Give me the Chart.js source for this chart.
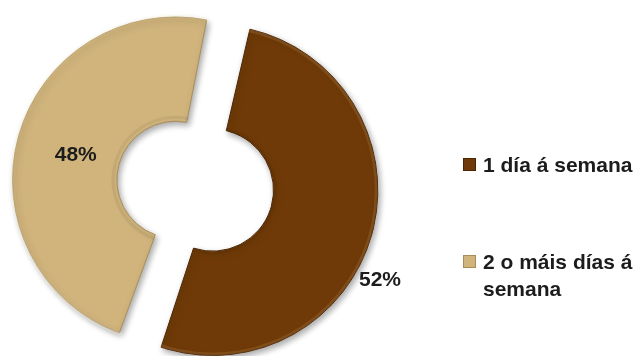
<!DOCTYPE html>
<html>
<head>
<meta charset="utf-8">
<script src="https://cdn.jsdelivr.net/npm/chart.js@4/dist/chart.umd.min.js"></script>
<style>
  html, body { margin: 0; padding: 0; background: #ffffff; }
  #wrap { position: relative; width: 640px; height: 356px; overflow: hidden; }
  #legend { position: absolute; left: 0; top: 0; width: 640px; height: 356px; pointer-events: none;
            font-family: 'Liberation Sans', Arial, sans-serif; font-weight: bold; font-size: 21px; color: #1c1c1c; }
  .item { position: absolute; left: 463px; }
  .box { position: absolute; left: 0; width: 13px; height: 13px; box-sizing: border-box; border: 1px solid; }
  .txt { position: absolute; left: 20px; line-height: 27px; white-space: nowrap; }
</style>
</head>
<body>
<div id="wrap">
  <canvas id="c"></canvas>
  <div id="legend"></div>
</div>
<script>
// ---- data ----
const categories = ['1 día á semana', '2 o máis días á semana'];
const legendLines = [['1 día á semana'], ['2 o máis días á', 'semana']];
const values = [52, 48];
const valueLabels = ['52%', '48%'];

// ---- styles ----
const colors = ['#6f3a07', '#d1b47c'];
const borders = ['#4b2604', '#a88d58'];
const highlights = ['rgba(255,220,170,0.12)', 'rgba(255,245,215,0.22)'];
// label placement: fraction along arc sweep, fraction across ring (1 = outer edge)
const labelFrac = [0.568, 0.49];
const labelRing = [1.24, 0.40];

function arcGeom(arc) {
  const p = arc.getProps(['x', 'y', 'startAngle', 'endAngle', 'innerRadius', 'outerRadius'], true);
  const off = (arc.options.offset || 0) / 4; // Chart.js translates arcs by offset/4 and grows radii by it
  const mid = (p.startAngle + p.endAngle) / 2;
  return {
    cx: p.x + Math.cos(mid) * off,
    cy: p.y + Math.sin(mid) * off,
    s: p.startAngle, e: p.endAngle,
    ri: p.innerRadius + off, ro: p.outerRadius + off
  };
}

const bevelPlugin = {
  id: 'bevel',
  afterDatasetsDraw(chart) {
    const ctx = chart.ctx;
    chart.getDatasetMeta(0).data.forEach((arc, i) => {
      const g = arcGeom(arc);
      ctx.save();
      ctx.beginPath();
      ctx.arc(g.cx, g.cy, g.ro, g.s, g.e);
      ctx.arc(g.cx, g.cy, g.ri, g.e, g.s, true);
      ctx.closePath();
      ctx.clip();
      ctx.strokeStyle = highlights[i];
      ctx.lineWidth = 6;
      ctx.beginPath();
      ctx.arc(g.cx, g.cy, g.ro, g.s, g.e);
      ctx.stroke();
      ctx.strokeStyle = 'rgba(0,0,0,0.05)';
      ctx.lineWidth = 6;
      ctx.beginPath();
      ctx.arc(g.cx, g.cy, g.ri, g.s, g.e);
      ctx.stroke();
      ctx.restore();
    });
  }
};

const labelPlugin = {
  id: 'sliceLabels',
  afterDatasetsDraw(chart) {
    const ctx = chart.ctx;
    ctx.save();
    ctx.font = 'bold 21px "Liberation Sans", Arial, sans-serif';
    ctx.fillStyle = '#1c1c1c';
    ctx.textAlign = 'center';
    ctx.textBaseline = 'middle';
    chart.getDatasetMeta(0).data.forEach((arc, i) => {
      const g = arcGeom(arc);
      const a = g.s + labelFrac[i] * (g.e - g.s);
      const r = g.ri + labelRing[i] * (g.ro - g.ri);
      ctx.fillText(valueLabels[i], g.cx + Math.cos(a) * r, g.cy + Math.sin(a) * r);
    });
    ctx.restore();
  }
};

const shadowPlugin = {
  id: 'sliceShadow',
  beforeDatasetsDraw(chart) {
    const ctx = chart.ctx;
    ctx.save();
    ctx.shadowColor = 'rgba(0,0,0,0.35)';
    ctx.shadowBlur = 6;
    ctx.shadowOffsetX = 2;
    ctx.shadowOffsetY = 3;
  },
  afterDatasetsDraw(chart) {
    chart.ctx.restore();
  }
};

new Chart(document.getElementById('c'), {
  type: 'doughnut',
  data: {
    labels: categories,
    datasets: [{
      data: values,
      backgroundColor: colors,
      borderColor: borders,
      borderWidth: 1,
      offset: 77,
      hoverOffset: 77
    }]
  },
  options: {
    responsive: true,
    maintainAspectRatio: false,
    animation: false,
    rotation: 12,
    cutout: '28.6%',
    radius: 146,
    layout: { padding: { left: 0, right: 252, top: 14, bottom: 0 } },
    plugins: {
      legend: { display: false },
      tooltip: { enabled: false }
    }
  },
  plugins: [shadowPlugin, bevelPlugin, labelPlugin]
});

// HTML legend built from the same arrays
const legendTops = [158, 255];
const lg = document.getElementById('legend');
legendLines.forEach((lines, i) => {
  const it = document.createElement('div');
  it.className = 'item';
  it.style.top = legendTops[i] + 'px';
  const b = document.createElement('div');
  b.className = 'box';
  b.style.background = colors[i];
  b.style.borderColor = borders[i];
  const t = document.createElement('div');
  t.className = 'txt';
  t.style.top = '-7px';
  t.innerHTML = lines.join('<br>');
  it.appendChild(b);
  it.appendChild(t);
  lg.appendChild(it);
});
</script>
</body>
</html>
